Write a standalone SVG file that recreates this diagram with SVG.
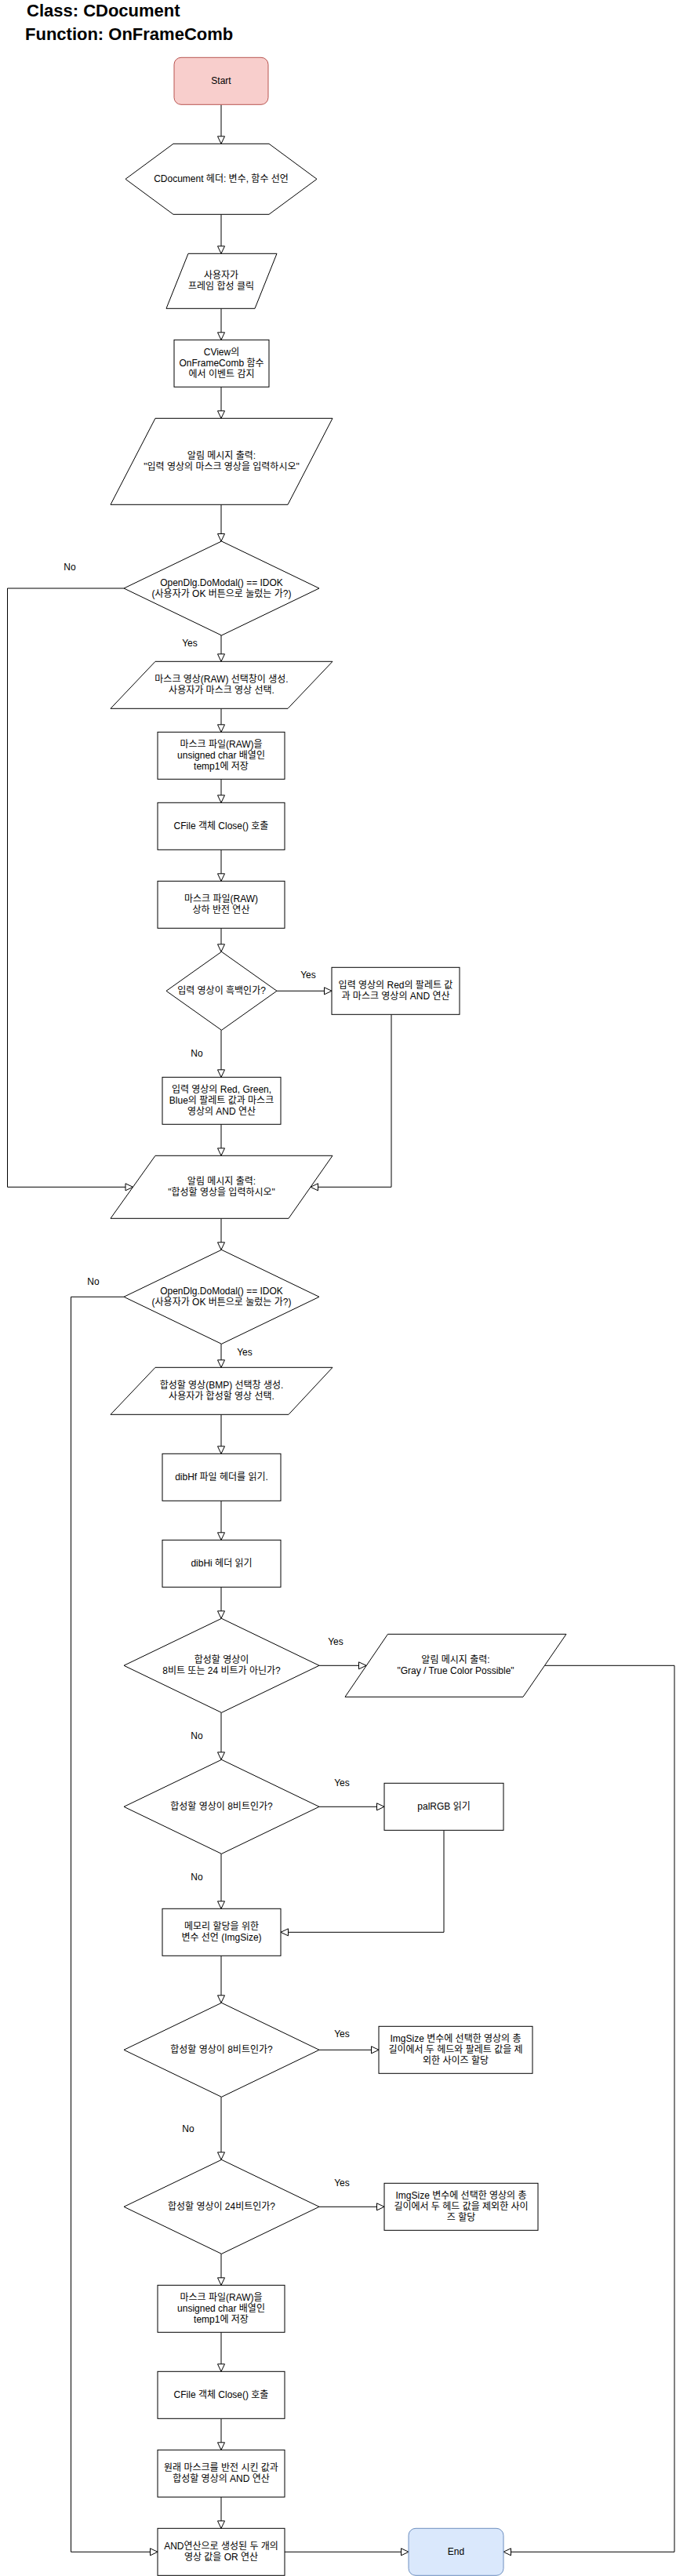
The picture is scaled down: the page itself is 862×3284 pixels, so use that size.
<svg xmlns="http://www.w3.org/2000/svg" width="862" height="3284" viewBox="0 0 862 3284">
<defs>
<style>
.s{fill:#fff;stroke:#000;stroke-width:1}
.t{font-family:"Liberation Sans","Noto Sans CJK KR",sans-serif;font-size:12px;text-anchor:middle;fill:#000}
.h{font-family:"Liberation Sans","Noto Sans CJK KR",sans-serif;font-size:22px;font-weight:bold;fill:#000}
.c{fill:none;stroke:#000;stroke-width:1;marker-end:url(#arr)}
</style>
<marker id="arr" markerUnits="userSpaceOnUse" markerWidth="12" markerHeight="12" refX="9.5" refY="4.5" orient="auto" viewBox="-1 -1 12 11">
<path d="M0,0 L9.5,4.5 L0,9 Z" fill="#fff" stroke="#000" stroke-width="1"/>
</marker>
</defs>
<rect width="862" height="3284" fill="#fff"/>
<g id="title">
<text class="h" x="34" y="21">Class: CDocument</text>
<text class="h" x="32" y="51">Function: OnFrameComb</text>
</g>
<g id="connectors">
<path class="c" d="M282,133.3 L282,183.3"/>
<path class="c" d="M282,273.3 L282,323.3"/>
<path class="c" d="M282,393.3 L282,433.3"/>
<path class="c" d="M282,493.3 L282,533.3"/>
<path class="c" d="M282,643.3 L282,690"/>
<path class="c" d="M158,750 L9.5,750 L9.5,1513.3 L169.5,1513.3"/>
<path class="c" d="M282,810 L282,843.3"/>
<path class="c" d="M282,903.3 L282,933.3"/>
<path class="c" d="M282,993.3 L282,1023.3"/>
<path class="c" d="M282,1083.3 L282,1123.3"/>
<path class="c" d="M282,1183.3 L282,1213.3"/>
<path class="c" d="M353,1263.3 L423,1263.3"/>
<path class="c" d="M282,1313.3 L282,1373.3"/>
<path class="c" d="M499,1293.3 L499,1513.3 L396,1513.3"/>
<path class="c" d="M282,1433.3 L282,1473.3"/>
<path class="c" d="M282,1553.3 L282,1593.3"/>
<path class="c" d="M158,1653.3 L90.5,1653.3 L90.5,3253.3 L201,3253.3"/>
<path class="c" d="M282,1713.3 L282,1743.3"/>
<path class="c" d="M282,1803.3 L282,1853.3"/>
<path class="c" d="M282,1913.3 L282,1963.3"/>
<path class="c" d="M282,2023.3 L282,2063.3"/>
<path class="c" d="M407,2123.3 L467,2123.3"/>
<path class="c" d="M694.5,2123.3 L860,2123.3 L860,3253.3 L642,3253.3"/>
<path class="c" d="M282,2183.3 L282,2243.3"/>
<path class="c" d="M407,2303.3 L490,2303.3"/>
<path class="c" d="M566,2333.3 L566,2463.3 L358,2463.3"/>
<path class="c" d="M282,2363.3 L282,2433.3"/>
<path class="c" d="M282,2493.3 L282,2553.3"/>
<path class="c" d="M407,2613.3 L483,2613.3"/>
<path class="c" d="M282,2673.3 L282,2753.3"/>
<path class="c" d="M407,2813.3 L490,2813.3"/>
<path class="c" d="M282,2873.3 L282,2913.3"/>
<path class="c" d="M282,2973.3 L282,3023.3"/>
<path class="c" d="M282,3083.3 L282,3123.3"/>
<path class="c" d="M282,3183.3 L282,3223.3"/>
<path class="c" d="M363,3253.3 L521,3253.3"/>
</g>
<g id="labels">
<text class="t" x="89" y="727">No</text>
<text class="t" x="242" y="824">Yes</text>
<text class="t" x="393" y="1247">Yes</text>
<text class="t" x="251" y="1347">No</text>
<text class="t" x="119" y="1638">No</text>
<text class="t" x="312" y="1728">Yes</text>
<text class="t" x="428" y="2097">Yes</text>
<text class="t" x="251" y="2217">No</text>
<text class="t" x="436" y="2277">Yes</text>
<text class="t" x="251" y="2397">No</text>
<text class="t" x="436" y="2597">Yes</text>
<text class="t" x="240" y="2718">No</text>
<text class="t" x="436" y="2787">Yes</text>
</g>
<g id="start">
<rect x="222" y="73.3" width="120" height="60" rx="9" fill="#f8cecc" stroke="#b85450" stroke-width="1"/>
<text class="t" x="282" y="107.3">Start</text>
</g>
<g id="header">
<polygon class="s" points="160,228.3 221,183.3 343,183.3 404,228.3 343,273.3 221,273.3"/>
<text class="t" x="282" y="232.3">CDocument 헤더: 변수, 함수 선언</text>
</g>
<g id="userClick">
<polygon class="s" points="240,323.3 353,323.3 325,393.3 212,393.3"/>
<text class="t"><tspan x="282" y="355.3">사용자가</tspan><tspan x="282" y="369.3">프레임 합성 클릭</tspan></text>
</g>
<g id="cview">
<rect class="s" x="222" y="433.3" width="121" height="60"/>
<text class="t"><tspan x="282.5" y="453.3">CView의</tspan><tspan x="282.5" y="467.3">OnFrameComb 함수</tspan><tspan x="282.5" y="481.3">에서 이벤트 감지</tspan></text>
</g>
<g id="msgMask">
<polygon class="s" points="198,533.3 424,533.3 367,643.3 141,643.3"/>
<text class="t"><tspan x="282.5" y="585.3">알림 메시지 출력:</tspan><tspan x="282.5" y="599.3">"입력 영상의 마스크 영상을 입력하시오"</tspan></text>
</g>
<g id="dlg1">
<polygon class="s" points="282.5,690 407,750 282.5,810 158,750"/>
<text class="t"><tspan x="282.5" y="747">OpenDlg.DoModal() == IDOK</tspan><tspan x="282.5" y="761">(사용자가 OK 버튼으로 눌렀는 가?)</tspan></text>
</g>
<g id="selMask">
<polygon class="s" points="198,843.3 424,843.3 367,903.3 141,903.3"/>
<text class="t"><tspan x="282.5" y="870.3">마스크 영상(RAW) 선택창이 생성.</tspan><tspan x="282.5" y="884.3">사용자가 마스크 영상 선택.</tspan></text>
</g>
<g id="saveTemp1">
<rect class="s" x="201" y="933.3" width="162" height="60"/>
<text class="t"><tspan x="282" y="953.3">마스크 파일(RAW)을</tspan><tspan x="282" y="967.3">unsigned char 배열인</tspan><tspan x="282" y="981.3">temp1에 저장</tspan></text>
</g>
<g id="close1">
<rect class="s" x="201" y="1023.3" width="162" height="60"/>
<text class="t" x="282" y="1057.3">CFile 객체 Close() 호출</text>
</g>
<g id="flip">
<rect class="s" x="201" y="1123.3" width="162" height="60"/>
<text class="t"><tspan x="282" y="1150.3">마스크 파일(RAW)</tspan><tspan x="282" y="1164.3">상하 반전 연산</tspan></text>
</g>
<g id="isGray">
<polygon class="s" points="282.5,1213.3 353,1263.3 282.5,1313.3 212,1263.3"/>
<text class="t" x="282.5" y="1267.3">입력 영상이 흑백인가?</text>
</g>
<g id="andRed">
<rect class="s" x="423" y="1233.3" width="163" height="60"/>
<text class="t"><tspan x="504.5" y="1260.3">입력 영상의 Red의 팔레트 값</tspan><tspan x="504.5" y="1274.3">과 마스크 영상의 AND 연산</tspan></text>
</g>
<g id="andRGB">
<rect class="s" x="207" y="1373.3" width="151" height="60"/>
<text class="t"><tspan x="282.5" y="1393.3">입력 영상의 Red, Green,</tspan><tspan x="282.5" y="1407.3">Blue의 팔레트 값과 마스크</tspan><tspan x="282.5" y="1421.3">영상의 AND 연산</tspan></text>
</g>
<g id="msgComb">
<polygon class="s" points="198,1473.3 424,1473.3 368,1553.3 141,1553.3"/>
<text class="t"><tspan x="282.5" y="1510.3">알림 메시지 출력:</tspan><tspan x="282.5" y="1524.3">"합성할 영상을 입력하시오"</tspan></text>
</g>
<g id="dlg2">
<polygon class="s" points="282.5,1593.3 407,1653.3 282.5,1713.3 158,1653.3"/>
<text class="t"><tspan x="282.5" y="1650.3">OpenDlg.DoModal() == IDOK</tspan><tspan x="282.5" y="1664.3">(사용자가 OK 버튼으로 눌렀는 가?)</tspan></text>
</g>
<g id="selBmp">
<polygon class="s" points="198,1743.3 424,1743.3 368,1803.3 141,1803.3"/>
<text class="t"><tspan x="282.5" y="1770.3">합성할 영상(BMP) 선택창 생성.</tspan><tspan x="282.5" y="1784.3">사용자가 합성할 영상 선택.</tspan></text>
</g>
<g id="dibHf">
<rect class="s" x="207" y="1853.3" width="151" height="60"/>
<text class="t" x="282.5" y="1887.3">dibHf 파일 헤더를 읽기.</text>
</g>
<g id="dibHi">
<rect class="s" x="207" y="1963.3" width="151" height="60"/>
<text class="t" x="282.5" y="1997.3">dibHi 헤더 읽기</text>
</g>
<g id="notBits">
<polygon class="s" points="282.5,2063.3 407,2123.3 282.5,2183.3 158,2123.3"/>
<text class="t"><tspan x="282.5" y="2120.3">합성할 영상이</tspan><tspan x="282.5" y="2134.3">8비트 또는 24 비트가 아닌가?</tspan></text>
</g>
<g id="msgGray">
<polygon class="s" points="494.5,2083.3 722,2083.3 667,2163.3 440,2163.3"/>
<text class="t"><tspan x="581" y="2120.3">알림 메시지 출력:</tspan><tspan x="581" y="2134.3">"Gray / True Color Possible"</tspan></text>
</g>
<g id="is8a">
<polygon class="s" points="282.5,2243.3 407,2303.3 282.5,2363.3 158,2303.3"/>
<text class="t" x="282.5" y="2307.3">합성할 영상이 8비트인가?</text>
</g>
<g id="palRGB">
<rect class="s" x="490" y="2273.3" width="152" height="60"/>
<text class="t" x="566" y="2307.3">palRGB 읽기</text>
</g>
<g id="imgSizeDecl">
<rect class="s" x="207" y="2433.3" width="151" height="60"/>
<text class="t"><tspan x="282.5" y="2460.3">메모리 할당을 위한</tspan><tspan x="282.5" y="2474.3">변수 선언 (ImgSize)</tspan></text>
</g>
<g id="is8b">
<polygon class="s" points="282.5,2553.3 407,2613.3 282.5,2673.3 158,2613.3"/>
<text class="t" x="282.5" y="2617.3">합성할 영상이 8비트인가?</text>
</g>
<g id="size8">
<rect class="s" x="483" y="2583.3" width="196" height="60"/>
<text class="t"><tspan x="581" y="2603.3">ImgSize 변수에 선택한 영상의 총</tspan><tspan x="581" y="2617.3">길이에서 두 헤드와 팔레트 값을 제</tspan><tspan x="581" y="2631.3">외한 사이즈 할당</tspan></text>
</g>
<g id="is24">
<polygon class="s" points="282.5,2753.3 407,2813.3 282.5,2873.3 158,2813.3"/>
<text class="t" x="282.5" y="2817.3">합성할 영상이 24비트인가?</text>
</g>
<g id="size24">
<rect class="s" x="490" y="2783.3" width="196" height="60"/>
<text class="t"><tspan x="588" y="2803.3">ImgSize 변수에 선택한 영상의 총</tspan><tspan x="588" y="2817.3">길이에서 두 헤드 값을 제외한 사이</tspan><tspan x="588" y="2831.3">즈 할당</tspan></text>
</g>
<g id="saveTemp1b">
<rect class="s" x="201" y="2913.3" width="162" height="60"/>
<text class="t"><tspan x="282" y="2933.3">마스크 파일(RAW)을</tspan><tspan x="282" y="2947.3">unsigned char 배열인</tspan><tspan x="282" y="2961.3">temp1에 저장</tspan></text>
</g>
<g id="close2">
<rect class="s" x="201" y="3023.3" width="162" height="60"/>
<text class="t" x="282" y="3057.3">CFile 객체 Close() 호출</text>
</g>
<g id="andInv">
<rect class="s" x="201" y="3123.3" width="162" height="60"/>
<text class="t"><tspan x="282" y="3150.3">원래 마스크를 반전 시킨 값과</tspan><tspan x="282" y="3164.3">합성할 영상의 AND 연산</tspan></text>
</g>
<g id="orOp">
<rect class="s" x="201" y="3223.3" width="162" height="60"/>
<text class="t"><tspan x="282" y="3250.3">AND연산으로 생성된 두 개의</tspan><tspan x="282" y="3264.3">영상 값을 OR 연산</tspan></text>
</g>
<g id="end">
<rect x="521" y="3223.3" width="121" height="60" rx="9" fill="#dae8fc" stroke="#6c8ebf" stroke-width="1"/>
<text class="t" x="581.5" y="3257.3">End</text>
</g>
</svg>
